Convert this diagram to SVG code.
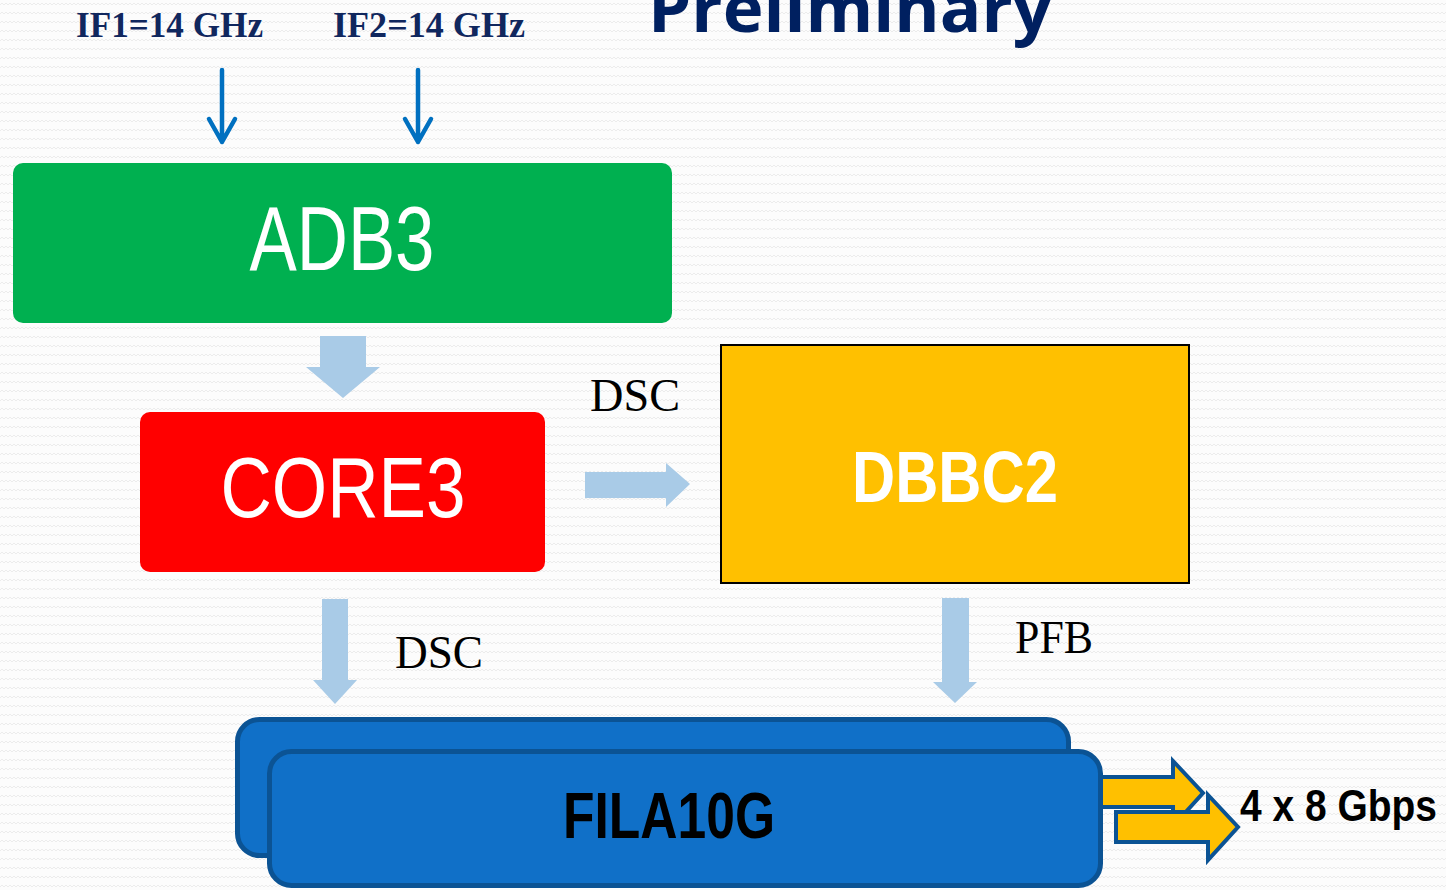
<svg xmlns="http://www.w3.org/2000/svg" width="1446" height="890" viewBox="0 0 1446 890">
<defs>
<pattern id="bg" width="8" height="9" patternUnits="userSpaceOnUse">
<rect width="8" height="9" fill="#fcfcfc"/>
<path d="M0 5 L2 3 L4 5 L6 3 L8 5" fill="none" stroke="#ececec" stroke-width="1"/>
</pattern>
<style>
.lbl{font-family:"Liberation Serif",serif;fill:#000;font-size:47px}
.ifl{font-family:"Liberation Serif",serif;font-weight:bold;fill:#10275e;font-size:36px}
.box{font-family:"Liberation Sans",Arial,sans-serif;fill:#fff;text-anchor:middle}
.blk{fill:#a9cbe7}
.out{fill:#ffc000;stroke:#0b5394;stroke-width:4;stroke-linejoin:miter}
.fila{fill:#1070c8;stroke:#0b5394;stroke-width:5}
</style>
</defs>
<rect width="1446" height="890" fill="url(#bg)"/>
<text x="648" y="32" font-family="'Open Sans',sans-serif" font-weight="bold" font-size="66" fill="#002060" textLength="404" lengthAdjust="spacingAndGlyphs">Preliminary</text>
<text class="ifl" x="76" y="37" textLength="187" lengthAdjust="spacingAndGlyphs">IF1=14 GHz</text>
<text class="ifl" x="333" y="37" textLength="192" lengthAdjust="spacingAndGlyphs">IF2=14 GHz</text>
<g id="connectors">
<g fill="none" stroke="#0070c0" stroke-width="4.5" stroke-linecap="round" stroke-linejoin="round">
<path d="M222 70 V142 M209 119 L222 142 L235 119"/>
<path d="M418 70 V142 M405 119 L418 142 L431 119"/>
</g>
<polygon class="blk" points="320,336 366,336 366,367 380,367 343,398 306,367 320,367"/>
<polygon class="blk" points="585,472 666,472 666,463 690,484 666,507 666,498 585,498"/>
<polygon class="blk" points="322,599 348,599 348,680 357,680 335,704 313,680 322,680"/>
<polygon class="blk" points="942,598 969,598 969,682 977,682 955,703 933,682 942,682"/>
</g>
<text class="lbl" x="590" y="411" textLength="90" lengthAdjust="spacingAndGlyphs">DSC</text>
<text class="lbl" x="395" y="668" textLength="88" lengthAdjust="spacingAndGlyphs">DSC</text>
<text class="lbl" x="1015" y="653" textLength="78" lengthAdjust="spacingAndGlyphs">PFB</text>
<g id="adb3">
<rect x="13" y="163" width="659" height="160" rx="10" fill="#00b050"/>
<text class="box" x="342" y="270" font-size="90" textLength="185" lengthAdjust="spacingAndGlyphs">ADB3</text>
</g>
<g id="core3">
<rect x="140" y="412" width="405" height="160" rx="10" fill="#ff0000"/>
<text class="box" x="343" y="517" font-size="86" textLength="245" lengthAdjust="spacingAndGlyphs">CORE3</text>
</g>
<g id="dbbc2">
<rect x="721" y="345" width="468" height="238" fill="#ffc000" stroke="#000" stroke-width="2"/>
<text class="box" x="955" y="502" font-size="72" font-weight="bold" textLength="206" lengthAdjust="spacingAndGlyphs">DBBC2</text>
</g>
<g id="fila10g">
<rect class="fila" x="237.5" y="719.5" width="831" height="136" rx="22"/>
<polygon class="out" points="1095,777 1173,777 1173,761 1203,793 1173,826 1173,807 1095,807"/>
<rect class="fila" x="269.5" y="751.5" width="831" height="134" rx="22"/>
<polygon class="out" points="1116,812 1208,812 1208,795 1238,827 1208,860 1208,842 1116,842"/>
<text x="669" y="838" font-family="'Liberation Sans',Arial,sans-serif" font-weight="bold" font-size="64" fill="#000" text-anchor="middle" textLength="212" lengthAdjust="spacingAndGlyphs">FILA10G</text>
</g>
<text x="1240" y="821" font-family="'Liberation Sans',Arial,sans-serif" font-weight="bold" font-size="44" fill="#000" textLength="197" lengthAdjust="spacingAndGlyphs">4 x 8 Gbps</text>
</svg>
